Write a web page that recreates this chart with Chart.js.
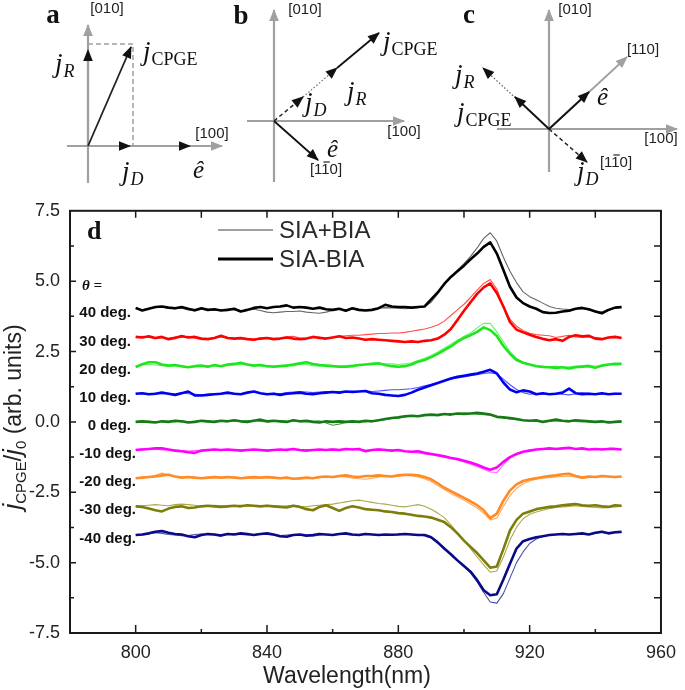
<!DOCTYPE html>
<html>
<head>
<meta charset="utf-8">
<script src="https://cdn.jsdelivr.net/npm/chart.js@4.4.1/dist/chart.umd.min.js"></script>
<style>
  html, body { margin: 0; padding: 0; background: #fff; }
  #page { position: relative; width: 685px; height: 690px; overflow: hidden; }
  canvas { position: absolute; }
</style>
</head>
<body>
<div id="page">
  <canvas id="diagA" width="230" height="195" style="left:0;top:0"></canvas>
  <canvas id="diagB" width="220" height="195" style="left:230px;top:0"></canvas>
  <canvas id="diagC" width="235" height="195" style="left:450px;top:0"></canvas>
  <canvas id="spectra" width="685" height="500" style="left:0;top:190px"></canvas>
</div>
<script>
const SANS = '"Liberation Sans", Arial, sans-serif';
const SERIF = '"Liberation Serif", "Times New Roman", serif';

// ---- spectra data (wavelength in nm, SIA-BIA thick / SIA+BIA thin) ----
const wavelength = [
  800,802,804,806,808,810,812,814,816,818,
  820,822,824,826,828,830,832,834,836,838,
  840,842,844,846,848,850,852,854,856,858,
  860,862,864,866,868,870,872,874,876,878,
  880,882,884,886,888,890,892,894,896,898,
  900,902,904,906,908,910,912,914,916,918,
  920,922,924,926,928,930,932,934,936,938,
  940,942,944,946,948];

const thickP40 = [
  4.05,3.96,4.02,4.08,4.10,4.06,4.04,4.08,4.02,3.97,
  4.04,3.98,4.00,3.96,3.98,4.02,3.92,3.98,4.05,4.08,
  4.04,4.08,4.10,4.14,4.06,4.08,4.06,4.02,4.06,4.00,
  3.98,4.02,3.95,4.04,3.98,3.96,3.98,4.04,4.16,4.10,
  4.08,4.08,4.06,4.08,4.10,4.35,4.60,4.90,5.15,5.35,
  5.55,5.78,5.98,6.22,6.38,5.98,5.40,4.80,4.42,4.22,
  4.10,4.02,3.90,3.87,3.88,3.92,3.95,4.02,4.05,4.00,
  3.92,3.86,3.98,4.06,4.08];
const thinP40 = [
  4.02,3.98,4.04,4.06,4.08,4.04,4.02,4.04,3.98,3.94,
  4.00,3.98,3.96,3.98,4.00,3.98,3.96,3.96,4.00,3.96,
  3.90,3.88,3.90,3.92,3.92,3.94,3.90,3.88,3.86,3.90,
  3.96,4.00,3.98,4.00,3.98,3.98,4.00,4.04,4.06,4.05,
  4.04,4.02,4.04,4.06,4.10,4.25,4.55,4.88,5.15,5.38,
  5.62,5.88,6.18,6.52,6.72,6.42,5.85,5.35,4.95,4.62,
  4.45,4.34,4.22,4.10,4.04,4.01,3.99,4.01,4.03,3.98,
  3.94,3.90,3.96,4.04,4.06];

const thickP30 = [
  3.02,3.00,3.04,2.98,3.02,2.94,2.98,3.05,3.00,3.02,
  2.96,2.94,2.98,3.06,2.98,2.96,2.98,2.94,2.92,2.96,
  2.98,2.94,2.96,3.00,2.96,2.94,2.96,3.02,2.98,2.96,
  3.00,3.04,2.98,3.00,2.96,2.92,2.94,2.92,2.90,2.88,
  2.86,2.84,2.86,2.84,2.88,2.90,2.96,3.10,3.30,3.62,
  3.95,4.25,4.55,4.78,4.92,4.58,4.10,3.55,3.28,3.18,
  3.10,3.02,2.95,2.90,2.94,2.88,3.02,3.08,3.04,3.06,
  2.96,2.94,3.00,3.02,2.98];
const thinP30 = [
  3.00,3.04,3.00,2.96,3.00,2.96,3.02,3.00,3.04,2.98,
  2.92,2.94,2.98,3.02,3.00,2.96,2.94,2.96,2.94,2.98,
  3.00,2.96,2.98,3.02,3.04,2.98,2.96,3.00,3.02,2.98,
  3.00,3.04,3.06,3.08,3.08,3.10,3.12,3.14,3.14,3.16,
  3.16,3.18,3.22,3.26,3.30,3.36,3.44,3.58,3.78,3.98,
  4.18,4.42,4.68,4.92,5.06,4.72,4.10,3.65,3.40,3.25,
  3.15,3.10,3.08,3.06,3.00,3.04,3.08,3.02,3.00,3.02,
  3.00,2.96,2.98,3.02,3.00];

const thickP20 = [
  1.95,2.05,2.12,2.12,2.04,2.00,2.02,1.98,1.94,1.98,
  2.00,1.96,2.02,1.98,2.04,2.06,2.10,2.04,2.00,2.02,
  1.98,1.96,1.98,2.00,2.04,2.08,2.12,2.06,2.02,2.00,
  1.98,1.96,1.96,1.98,2.02,2.04,2.06,2.08,2.02,1.98,
  1.96,1.98,2.04,2.14,2.20,2.30,2.42,2.55,2.68,2.85,
  2.98,3.08,3.20,3.36,3.26,3.05,2.70,2.42,2.20,2.10,
  2.04,1.98,1.95,1.94,1.92,1.94,1.90,1.94,1.96,1.98,
  1.92,2.00,2.04,2.06,2.06];
const thinP20 = [
  1.98,2.02,2.04,2.02,2.00,1.98,2.00,1.96,1.94,1.96,
  1.98,2.00,1.98,1.98,2.00,2.02,2.04,2.02,2.00,2.00,
  1.96,1.98,2.00,2.02,1.98,2.06,2.04,2.00,1.98,2.00,
  2.00,1.98,2.00,2.02,2.04,2.04,2.06,2.04,2.06,2.06,
  2.04,2.06,2.10,2.18,2.26,2.36,2.48,2.62,2.76,2.90,
  3.04,3.16,3.34,3.50,3.50,3.20,2.85,2.50,2.26,2.12,
  2.04,2.00,1.98,1.96,1.98,1.94,1.96,1.98,2.00,2.02,
  1.98,2.02,2.04,2.02,2.04];

const thickP10 = [
  1.00,1.02,0.98,1.00,1.04,1.00,0.96,1.02,1.08,0.94,
  0.94,0.96,0.98,1.00,1.04,1.00,0.98,1.04,1.08,1.02,
  0.98,1.00,0.96,1.00,1.02,1.04,1.00,0.98,1.02,1.04,
  1.06,1.04,1.08,1.06,1.08,1.10,1.02,1.00,0.96,0.94,
  0.92,0.96,1.04,1.14,1.22,1.30,1.38,1.46,1.54,1.60,
  1.64,1.68,1.72,1.78,1.85,1.72,1.40,1.15,1.05,1.12,
  1.08,0.98,1.02,0.98,1.00,1.04,1.18,1.02,0.98,1.00,
  0.98,1.02,0.98,1.00,1.00];
const thinP10 = [
  1.02,1.00,1.00,1.02,1.00,1.02,0.98,1.04,1.00,0.98,
  0.96,0.98,1.00,1.02,1.00,1.02,1.00,1.04,1.06,1.02,
  1.00,1.02,1.00,1.04,1.06,1.08,1.06,1.04,1.06,1.08,
  1.06,1.06,1.08,1.10,1.08,1.10,1.08,1.10,1.12,1.14,
  1.14,1.16,1.18,1.22,1.28,1.34,1.40,1.46,1.52,1.56,
  1.60,1.64,1.68,1.72,1.75,1.70,1.52,1.32,1.15,1.04,
  0.98,1.00,0.98,1.00,1.02,0.98,0.96,1.00,1.04,1.02,
  1.00,0.98,1.00,1.02,1.00];

const thickZero = [
  0.00,0.02,0.00,-0.02,0.02,0.00,0.04,0.02,-0.02,0.00,
  0.04,0.02,0.00,0.04,0.02,0.06,0.02,0.00,0.04,0.08,
  0.02,0.04,0.02,0.00,0.06,0.02,0.04,0.00,-0.02,0.02,
  0.00,0.02,0.00,0.02,0.00,0.04,0.02,0.06,0.10,0.14,
  0.16,0.20,0.22,0.20,0.24,0.26,0.24,0.28,0.26,0.30,
  0.28,0.30,0.32,0.30,0.26,0.18,0.16,0.14,0.10,0.06,
  0.04,0.06,0.00,0.04,0.08,0.04,0.02,0.06,0.04,0.02,
  0.00,0.02,-0.02,0.00,0.02];
const thinZero = [
  0.00,0.00,0.02,0.00,0.02,0.02,0.00,0.04,0.00,0.02,
  0.02,0.00,0.02,0.04,0.02,0.04,0.02,0.04,0.06,0.02,
  0.00,0.02,0.04,0.02,0.04,0.02,0.00,0.02,0.04,-0.04,
  -0.12,-0.08,-0.02,0.00,0.02,0.00,0.04,0.06,0.08,0.12,
  0.14,0.18,0.20,0.22,0.24,0.24,0.26,0.28,0.30,0.30,
  0.32,0.30,0.28,0.26,0.24,0.20,0.14,0.10,0.08,0.06,
  0.04,0.02,0.00,0.02,0.04,0.02,0.04,0.02,0.00,0.02,
  0.00,0.00,0.02,0.00,0.00];

const thickM10 = [
  -1.00,-0.98,-0.96,-0.94,-0.94,-0.98,-1.02,-1.04,-1.08,-1.10,
  -1.02,-1.00,-0.98,-1.00,-0.98,-1.00,-1.02,-1.00,-0.98,-1.00,
  -1.02,-1.00,-0.98,-1.00,-0.96,-1.00,-1.02,-1.00,-0.98,-1.00,
  -0.98,-1.00,-0.96,-0.98,-0.96,-1.04,-1.00,-0.98,-1.00,-1.02,
  -1.00,-1.04,-1.06,-1.04,-1.10,-1.14,-1.18,-1.22,-1.28,-1.32,
  -1.38,-1.44,-1.52,-1.62,-1.70,-1.62,-1.42,-1.25,-1.14,-1.06,
  -1.02,-0.98,-0.96,-0.94,-0.96,-0.94,-0.92,-0.96,-0.94,-0.98,
  -0.96,-0.98,-0.96,-0.96,-0.98];
const thinM10 = [
  -0.98,-0.96,-0.98,-0.96,-1.00,-0.98,-1.00,-1.02,-1.04,-1.02,
  -1.00,-1.02,-1.00,-0.98,-1.00,-1.02,-1.00,-0.98,-1.00,-0.98,
  -1.00,-0.98,-1.00,-0.96,-0.98,-1.00,-0.98,-1.00,-1.00,-0.98,
  -0.96,-0.98,-0.98,-0.96,-0.98,-1.00,-0.98,-0.96,-0.98,-1.00,
  -1.02,-1.04,-1.08,-1.10,-1.14,-1.16,-1.20,-1.26,-1.30,-1.36,
  -1.42,-1.50,-1.58,-1.68,-1.78,-1.80,-1.52,-1.28,-1.14,-1.06,
  -1.00,-0.98,-0.96,-0.96,-0.94,-0.96,-0.94,-0.96,-0.96,-0.98,
  -0.98,-0.96,-0.98,-0.98,-0.98];

const thickM20 = [
  -2.00,-1.98,-1.96,-1.94,-1.90,-1.88,-1.94,-1.98,-1.96,-1.98,
  -2.00,-1.98,-1.96,-1.98,-1.96,-1.98,-2.00,-1.98,-1.96,-1.98,
  -1.96,-1.98,-2.00,-1.98,-2.02,-2.00,-1.98,-2.00,-1.96,-1.94,
  -1.96,-1.92,-1.90,-1.94,-1.96,-1.92,-1.92,-1.90,-1.92,-1.94,
  -1.90,-1.88,-1.88,-1.90,-1.96,-2.04,-2.18,-2.34,-2.46,-2.58,
  -2.70,-2.82,-2.96,-3.14,-3.42,-3.26,-2.80,-2.44,-2.22,-2.10,
  -2.04,-2.00,-1.96,-1.92,-1.90,-1.86,-1.84,-1.92,-1.98,-1.94,
  -1.96,-1.92,-1.94,-1.96,-1.94];
const thinM20 = [
  -2.00,-1.98,-1.96,-1.90,-1.82,-1.88,-1.94,-1.96,-1.98,-1.98,
  -1.98,-2.00,-1.98,-2.00,-1.98,-1.96,-1.98,-2.00,-2.02,-2.00,
  -1.98,-2.00,-2.02,-2.00,-2.02,-2.04,-2.00,-2.02,-1.98,-1.96,
  -1.98,-1.94,-1.96,-2.00,-2.02,-2.04,-2.00,-1.96,-1.94,-1.96,
  -1.92,-1.90,-1.92,-1.96,-2.02,-2.12,-2.26,-2.40,-2.54,-2.66,
  -2.78,-2.92,-3.06,-3.24,-3.48,-3.42,-3.00,-2.62,-2.36,-2.20,
  -2.10,-2.04,-2.00,-1.98,-1.96,-1.94,-1.92,-1.96,-2.00,-1.98,
  -1.96,-1.94,-1.96,-1.98,-1.96];

const thickM30 = [
  -3.00,-3.02,-3.08,-3.14,-3.18,-3.08,-3.02,-3.00,-3.06,-3.04,
  -3.00,-2.98,-3.00,-3.02,-3.00,-2.98,-3.00,-2.96,-2.98,-3.00,
  -2.98,-3.00,-3.02,-3.04,-2.98,-3.02,-3.10,-3.14,-3.02,-2.96,
  -3.06,-3.16,-3.06,-3.00,-3.04,-3.10,-3.12,-3.14,-3.18,-3.20,
  -3.24,-3.26,-3.30,-3.34,-3.36,-3.40,-3.48,-3.56,-3.74,-3.96,
  -4.22,-4.44,-4.66,-4.92,-5.18,-5.14,-4.52,-3.86,-3.48,-3.26,
  -3.18,-3.10,-3.06,-3.02,-3.00,-2.96,-2.94,-2.92,-2.96,-2.98,
  -2.96,-3.00,-3.02,-2.96,-2.98];
const thinM30 = [
  -3.00,-2.98,-2.96,-2.94,-2.96,-2.98,-2.94,-2.92,-2.94,-2.96,
  -3.00,-2.98,-2.96,-2.98,-3.00,-2.98,-2.96,-2.98,-3.00,-2.98,
  -2.96,-2.98,-3.00,-2.98,-2.96,-3.00,-3.02,-2.98,-2.96,-2.94,
  -2.92,-2.88,-2.84,-2.80,-2.78,-2.82,-2.86,-2.90,-2.92,-2.96,
  -3.00,-3.02,-2.98,-2.94,-3.00,-3.10,-3.24,-3.40,-3.66,-3.94,
  -4.22,-4.50,-4.80,-5.08,-5.34,-5.30,-4.80,-4.20,-3.74,-3.44,
  -3.28,-3.20,-3.14,-3.08,-3.04,-3.02,-3.00,-2.98,-3.00,-3.02,
  -3.04,-3.06,-3.04,-3.02,-3.00];

const thickM40 = [
  -4.02,-4.00,-3.96,-3.90,-3.88,-3.94,-3.98,-4.00,-4.06,-4.10,
  -4.02,-3.98,-4.00,-4.04,-3.98,-4.00,-3.96,-3.98,-4.02,-3.98,
  -3.96,-4.00,-4.06,-4.08,-4.02,-4.00,-4.04,-4.02,-3.98,-4.00,
  -4.02,-3.98,-3.96,-4.00,-4.02,-3.98,-4.00,-4.02,-4.00,-4.01,
  -4.00,-3.98,-4.00,-4.02,-4.02,-4.10,-4.28,-4.50,-4.70,-4.92,
  -5.12,-5.32,-5.62,-5.98,-6.16,-6.12,-5.60,-5.04,-4.50,-4.24,
  -4.16,-4.10,-4.06,-4.02,-4.00,-3.98,-4.00,-3.98,-3.96,-4.00,
  -3.94,-3.90,-3.96,-3.92,-3.90];
const thinM40 = [
  -4.00,-4.02,-3.98,-3.94,-3.96,-4.00,-4.02,-4.04,-4.04,-4.00,
  -3.98,-4.00,-4.02,-4.00,-3.98,-3.98,-4.00,-4.02,-4.00,-3.98,
  -4.00,-4.02,-4.04,-4.02,-4.00,-4.00,-4.04,-4.06,-4.02,-4.00,
  -4.00,-3.98,-4.00,-4.02,-4.00,-3.98,-4.00,-4.00,-4.02,-4.00,
  -3.98,-3.98,-4.00,-4.02,-4.04,-4.12,-4.30,-4.52,-4.72,-4.94,
  -5.14,-5.36,-5.68,-6.06,-6.40,-6.44,-6.10,-5.55,-5.00,-4.62,
  -4.32,-4.16,-4.06,-4.02,-4.00,-3.98,-4.00,-3.98,-3.98,-4.00,
  -3.96,-3.92,-3.96,-3.94,-3.94];

const angleLabels = ['40 deg.', '30 deg.', '20 deg.', '10 deg.', '0 deg.', '-10 deg.', '-20 deg.', '-30 deg.', '-40 deg.'];
const angleBaselines = [4, 3, 2, 1, 0, -1, -2, -3, -4];
const thickSeries = [thickP40, thickP30, thickP20, thickP10, thickZero, thickM10, thickM20, thickM30, thickM40];
const thinSeries = [thinP40, thinP30, thinP20, thinP10, thinZero, thinM10, thinM20, thinM30, thinM40];
const thickColors = ['#000000', '#ff0000', '#1ee61e', '#0000f0', '#157a15', '#ff00ff', '#ff8a26', '#7d7d0c', '#0a0a88'];
const thinColors = ['#666666', '#ff5050', '#66f266', '#5050ff', '#4c9a4c', '#ff66ff', '#ffa95e', '#a9a94e', '#4e4eaa'];

const xTicks = [800, 840, 880, 920, 960];
const xMinorTicks = [820, 860, 900, 940];
const yTicks = [-7.5, -5, -2.5, 0, 2.5, 5, 7.5];
const yMinorTicks = [-6.25, -3.75, -1.25, 1.25, 3.75, 6.25];

// ---- vector diagrams (units relative to the origin, y up) ----
const GRAY = '#a0a0a0', INK = '#111111';
const diagramA = {
  range: [-88, 142, -49, 146],
  vectors: [
    {pts: [[0, 0], [43, 99]], color: '#222', width: 1.8, head: INK},
    {pts: [[0, 0], [0, 96]], color: GRAY, width: 2.2, head: INK},
    {pts: [[0, 0], [42, 0]], color: GRAY, width: 2.2, head: INK},
    {pts: [[0, 0], [102, 0]], color: GRAY, width: 2.2, head: INK},
    {pts: [[0, 102], [45, 102], [45, 0]], color: GRAY, width: 1.5, dash: [5, 3]},
    {pts: [[0, -37], [0, 121]], color: GRAY, width: 2.2, head: GRAY},
    {pts: [[-21, 0], [134, 0]], color: GRAY, width: 2.2, head: GRAY}
  ],
  labels: [
    {kind: 'panel', text: 'a', x: -35, y: 130},
    {kind: 'dir', text: '[010]', x: 19, y: 137},
    {kind: 'dir', text: '[100]', x: 124, y: 12},
    {kind: 'j', sub: 'CPGE', x: 55, y: 86},
    {kind: 'j', sub: 'R', italic: true, x: -33, y: 74},
    {kind: 'j', sub: 'D', italic: true, x: 34, y: -34},
    {kind: 'hat', x: 105, y: -32}
  ]
};
const diagramB = {
  range: [-44, 176, -74, 121],
  vectors: [
    {pts: [[63, 53], [105, 88]], color: INK, width: 1.8, head: INK},
    {pts: [[29, 24], [63, 53]], color: '#777', width: 1.3, dash: [1.5, 2], head: INK},
    {pts: [[0, 0], [29, 24]], color: '#222', width: 1.5, dash: [4, 3], head: INK},
    {pts: [[0, 0], [44, -39]], color: INK, width: 1.8, head: INK},
    {pts: [[-27, 0], [130, 0]], color: GRAY, width: 2.2, head: GRAY},
    {pts: [[0, -61], [0, 111]], color: GRAY, width: 2.2, head: GRAY}
  ],
  labels: [
    {kind: 'panel', text: 'b', x: -33, y: 104},
    {kind: 'dir', text: '[010]', x: 31, y: 111},
    {kind: 'dir', text: '[100]', x: 130, y: -11},
    {kind: 'dir', text: '[110]', bar: true, x: 52, y: -49},
    {kind: 'j', sub: 'CPGE', x: 109, y: 71},
    {kind: 'j', sub: 'D', italic: true, x: 31, y: 10},
    {kind: 'j', sub: 'R', italic: true, x: 73, y: 21},
    {kind: 'hat', x: 53, y: -36}
  ]
};
const diagramC = {
  range: [-99, 136, -66, 129],
  vectors: [
    {pts: [[0, 0], [40, 37]], color: INK, width: 1.8, head: INK},
    {pts: [[0, 0], [-34, 32]], color: INK, width: 1.8, head: INK},
    {pts: [[0, 0], [38, -33]], color: '#222', width: 1.5, dash: [4, 3], head: INK},
    {pts: [[0, 0], [-66, 61]], color: '#666', width: 1.3, dash: [1.5, 2], head: INK},
    {pts: [[0, 0], [78, 72]], color: GRAY, width: 1.8, head: GRAY},
    {pts: [[-52, 0], [128, 0]], color: GRAY, width: 2.2, head: GRAY},
    {pts: [[0, -43], [0, 119]], color: GRAY, width: 2.2, head: GRAY}
  ],
  labels: [
    {kind: 'panel', text: 'c', x: -80, y: 113},
    {kind: 'dir', text: '[010]', x: 26, y: 119},
    {kind: 'dir', text: '[110]', x: 94, y: 79},
    {kind: 'dir', text: '[100]', x: 112, y: -10},
    {kind: 'dir', text: '[110]', bar: true, x: 67, y: -34},
    {kind: 'j', sub: 'R', italic: true, x: -94, y: 46},
    {kind: 'j', sub: 'CPGE', x: -92, y: 8},
    {kind: 'j', sub: 'D', italic: true, x: 28, y: -51},
    {kind: 'hat', x: 48, y: 24}
  ]
};

const arrowHeads = {
  id: 'arrowHeads',
  afterDatasetsDraw(chart) {
    const ctx = chart.ctx;
    chart.data.datasets.forEach((ds, i) => {
      if (!ds.head) return;
      const pts = chart.getDatasetMeta(i).data;
      const a = pts[pts.length - 2], b = pts[pts.length - 1];
      const ang = Math.atan2(b.y - a.y, b.x - a.x);
      ctx.save();
      ctx.translate(b.x, b.y);
      ctx.rotate(ang);
      ctx.fillStyle = ds.head;
      ctx.beginPath();
      ctx.moveTo(1, 0);
      ctx.lineTo(-11, -4.8);
      ctx.lineTo(-11, 4.8);
      ctx.closePath();
      ctx.fill();
      ctx.restore();
    });
  }
};

function drawLabel(ctx, chart, lb) {
  const px = chart.scales.x.getPixelForValue(lb.x);
  const py = chart.scales.y.getPixelForValue(lb.y);
  ctx.fillStyle = INK;
  if (lb.kind === 'panel') {
    ctx.font = 'bold 27px ' + SERIF;
    ctx.textAlign = 'center';
    ctx.textBaseline = 'middle';
    ctx.fillText(lb.text, px, py);
  } else if (lb.kind === 'dir') {
    ctx.font = '15px ' + SANS;
    ctx.fillStyle = '#222';
    ctx.textAlign = 'center';
    ctx.textBaseline = 'middle';
    ctx.fillText(lb.text, px, py);
    if (lb.bar) {
      const total = ctx.measureText(lb.text).width;
      const x0 = px - total / 2 + ctx.measureText('[1').width;
      const w = ctx.measureText('1').width;
      ctx.strokeStyle = '#222';
      ctx.lineWidth = 1.2;
      ctx.beginPath();
      ctx.moveTo(x0 + 1, py - 8);
      ctx.lineTo(x0 + w - 1, py - 8);
      ctx.stroke();
    }
  } else if (lb.kind === 'j') {
    ctx.textAlign = 'left';
    ctx.textBaseline = 'alphabetic';
    ctx.font = 'italic 27px ' + SERIF;
    ctx.fillText('j', px, py);
    const w = ctx.measureText('j').width;
    ctx.font = (lb.italic ? 'italic ' : '') + '18px ' + SERIF;
    ctx.fillText(lb.sub, px + w + 1, py + 5);
  } else if (lb.kind === 'hat') {
    ctx.textAlign = 'left';
    ctx.textBaseline = 'alphabetic';
    ctx.font = 'italic 25px ' + SERIF;
    ctx.fillText('\u00ea', px, py);
  }
}

function diagramChart(id, d) {
  return new Chart(document.getElementById(id), {
    type: 'scatter',
    data: {
      datasets: d.vectors.map(v => ({
        data: v.pts.map(p => ({x: p[0], y: p[1]})),
        showLine: true,
        pointRadius: 0,
        borderColor: v.color,
        borderWidth: v.width,
        borderDash: v.dash || [],
        borderCapStyle: 'butt',
        head: v.head,
        tension: 0
      }))
    },
    options: {
      responsive: false,
      animation: false,
      events: [],
      layout: {padding: 0},
      plugins: {legend: {display: false}, tooltip: {enabled: false}},
      scales: {
        x: {type: 'linear', display: false, min: d.range[0], max: d.range[1]},
        y: {type: 'linear', display: false, min: d.range[2], max: d.range[3]}
      }
    },
    plugins: [arrowHeads, {
      id: 'diagramLabels',
      afterDraw(chart) {
        const ctx = chart.ctx;
        ctx.save();
        d.labels.forEach(lb => drawLabel(ctx, chart, lb));
        ctx.restore();
      }
    }]
  });
}

diagramChart('diagA', diagramA);
diagramChart('diagB', diagramB);
diagramChart('diagC', diagramC);

// ---- spectra panel ----
function drawYTitle(ctx, bx, cy) {
  const parts = [
    {t: 'j', f: 'italic 26px ' + SANS, dy: 0},
    {t: 'CPGE', f: '15px ' + SANS, dy: 5},
    {t: '/', f: '23px ' + SANS, dy: 0},
    {t: 'j', f: 'italic 26px ' + SANS, dy: 0},
    {t: '0', f: '15px ' + SANS, dy: 5},
    {t: ' (arb. units)', f: '23px ' + SANS, dy: 0}
  ];
  let total = 0;
  parts.forEach(p => { ctx.font = p.f; p.w = ctx.measureText(p.t).width; total += p.w; });
  ctx.save();
  ctx.translate(bx, cy);
  ctx.rotate(-Math.PI / 2);
  ctx.fillStyle = '#222';
  ctx.textAlign = 'left';
  ctx.textBaseline = 'alphabetic';
  let x = -total / 2;
  parts.forEach(p => { ctx.font = p.f; ctx.fillText(p.t, x, p.dy); x += p.w; });
  ctx.restore();
}

const spectraDecor = {
  id: 'spectraDecor',
  afterDraw(chart) {
    const {ctx, chartArea: a} = chart;
    const xs = chart.scales.x, ys = chart.scales.y;
    ctx.save();
    // frame
    ctx.strokeStyle = '#1a1a1a';
    ctx.lineWidth = 2;
    ctx.strokeRect(a.left, a.top, a.right - a.left, a.bottom - a.top);
    // inward tick marks
    ctx.lineWidth = 1.5;
    ctx.beginPath();
    xTicks.concat(xMinorTicks).forEach(v => {
      const px = xs.getPixelForValue(v);
      if (px <= a.left + 1 || px >= a.right - 1) return;
      const len = xTicks.includes(v) ? 8 : 4;
      ctx.moveTo(px, a.bottom); ctx.lineTo(px, a.bottom - len);
      ctx.moveTo(px, a.top); ctx.lineTo(px, a.top + 7);
    });
    yTicks.concat(yMinorTicks).forEach(v => {
      const py = ys.getPixelForValue(v);
      if (py <= a.top + 1 || py >= a.bottom - 1) return;
      const len = yTicks.includes(v) ? 6 : 4;
      ctx.moveTo(a.left, py); ctx.lineTo(a.left + len, py);
      ctx.moveTo(a.right, py); ctx.lineTo(a.right - 7, py);
    });
    ctx.stroke();

    // panel letter
    ctx.fillStyle = INK;
    ctx.font = 'bold 26px ' + SERIF;
    ctx.textAlign = 'left';
    ctx.textBaseline = 'alphabetic';
    ctx.fillText('d', 87, 49);

    // legend
    ctx.strokeStyle = '#808080';
    ctx.lineWidth = 1.5;
    ctx.beginPath(); ctx.moveTo(218, 40); ctx.lineTo(273, 40); ctx.stroke();
    ctx.strokeStyle = '#000';
    ctx.lineWidth = 3;
    ctx.beginPath(); ctx.moveTo(218, 69); ctx.lineTo(273, 69); ctx.stroke();
    ctx.fillStyle = '#2a2a2a';
    ctx.font = '24px ' + SANS;
    ctx.textBaseline = 'middle';
    ctx.fillText('SIA+BIA', 279, 41);
    ctx.fillText('SIA-BIA', 279, 70);

    // angle labels
    ctx.fillStyle = INK;
    ctx.font = 'italic bold 15px ' + SERIF;
    ctx.textBaseline = 'alphabetic';
    ctx.fillText('\u03b8 =', 82, 100);
    ctx.font = 'bold 15px ' + SANS;
    ctx.textAlign = 'right';
    ctx.textBaseline = 'middle';
    angleLabels.forEach((t, i) => {
      const py = ys.getPixelForValue(angleBaselines[i]) + 4;
      ctx.fillText(t, angleBaselines[i] >= 0 ? 131 : 136, py);
    });

    // axis titles
    ctx.fillStyle = '#222';
    ctx.font = '23px ' + SANS;
    ctx.textAlign = 'center';
    ctx.textBaseline = 'alphabetic';
    ctx.fillText('Wavelength(nm)', 347, 493);
    drawYTitle(ctx, 21, 227);
    ctx.restore();
  }
};

const datasets = [];
thickSeries.forEach((s, i) => {
  datasets.push({
    label: 'SIA-BIA ' + angleLabels[i],
    data: wavelength.map((w, k) => ({x: w, y: s[k]})),
    borderColor: thickColors[i],
    borderWidth: 2.6
  });
});
thinSeries.forEach((s, i) => {
  datasets.push({
    label: 'SIA+BIA ' + angleLabels[i],
    data: wavelength.map((w, k) => ({x: w, y: s[k]})),
    borderColor: thinColors[i],
    borderWidth: 1.1
  });
});

new Chart(document.getElementById('spectra'), {
  type: 'line',
  data: {datasets: datasets},
  options: {
    responsive: false,
    animation: false,
    events: [],
    layout: {padding: {top: 13, right: 18, left: 0, bottom: 0}},
    elements: {point: {radius: 0}, line: {tension: 0, borderJoinStyle: 'round'}},
    plugins: {legend: {display: false}, tooltip: {enabled: false}},
    scales: {
      x: {
        type: 'linear', min: 780, max: 960,
        grid: {display: false, drawTicks: false},
        border: {display: false},
        afterBuildTicks: s => { s.ticks = xTicks.map(v => ({value: v})); },
        afterFit: s => { s.height = 57; },
        ticks: {font: {family: SANS, size: 18}, color: '#222', padding: 9, maxRotation: 0, callback: v => String(v)}
      },
      y: {
        type: 'linear', min: -7.5, max: 7.5,
        grid: {display: false, drawTicks: false},
        border: {display: false},
        afterBuildTicks: s => { s.ticks = yTicks.map(v => ({value: v})); },
        afterFit: s => { s.width = 70; },
        ticks: {font: {family: SANS, size: 18}, color: '#222', padding: 10, callback: v => v.toFixed(1)}
      }
    }
  },
  plugins: [spectraDecor]
});
</script>
</body>
</html>
